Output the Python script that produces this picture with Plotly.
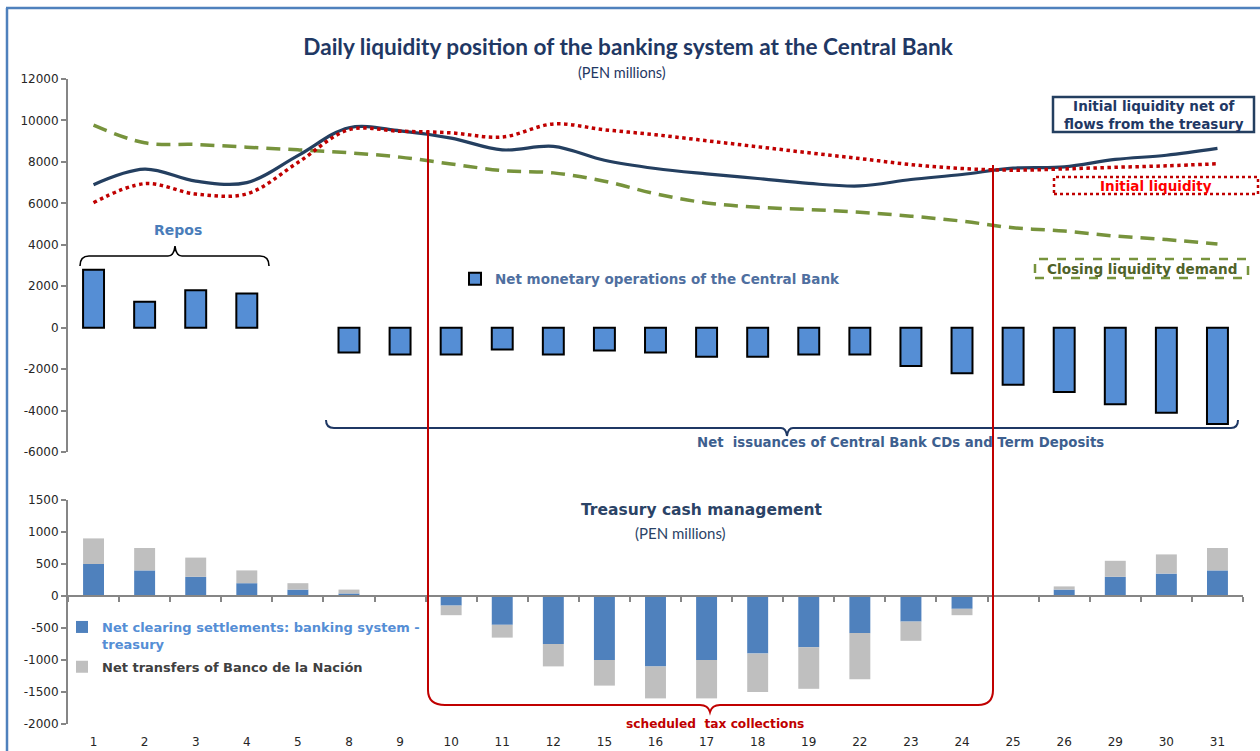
import plotly.graph_objects as go

# ---------------- data ----------------
days = ["1", "2", "3", "4", "5", "8", "9", "10", "11", "12", "15", "16",
        "17", "18", "19", "22", "23", "24", "25", "26", "29", "30", "31"]

net_monetary_ops = [2800, 1250, 1800, 1650, None, -1200, -1300, -1300, -1050, -1300, -1100, -1200,
                    -1400, -1400, -1300, -1300, -1850, -2200, -2750, -3100, -3700, -4100, -4650]

initial_liq_net_treasury = [6900, 7650, 7070, 7000, 8300, 9650, 9500, 9150, 8580, 8750, 8080, 7680,
                            7420, 7200, 6960, 6840, 7150, 7390, 7700, 7760, 8120, 8320, 8650]

initial_liquidity = [6030, 6950, 6450, 6460, 7970, 9550, 9480, 9400, 9200, 9830, 9550, 9310,
                     9020, 8730, 8440, 8160, 7870, 7680, 7600, 7660, 7740, 7810, 7910]

closing_liq_demand = [9770, 8920, 8840, 8710, 8580, 8440, 8230, 7900, 7580, 7470, 7070, 6460,
                      6020, 5810, 5700, 5570, 5380, 5140, 4820, 4660, 4420, 4250, 4040]

net_clearing = [500, 400, 300, 200, 100, 40, 0, -150, -450, -750, -1000, -1100,
                -1000, -900, -800, -580, -400, -200, 0, 100, 300, 350, 400]

net_bn_transfers = [400, 350, 300, 200, 100, 60, 0, -150, -200, -350, -400, -500,
                    -600, -600, -650, -720, -300, -100, 0, 50, 250, 300, 350]

top_ticks = [-6000, -4000, -2000, 0, 2000, 4000, 6000, 8000, 10000, 12000]
bottom_ticks = [-2000, -1500, -1000, -500, 0, 500, 1000, 1500]

# ---------------- geometry helpers ----------------
W, H = 1260, 751
L, R, T, B = 68, 17, 79, 27
PW, PH = W - L - R, H - T - B


def px(x):
    return (x - L) / PW


def py(y):
    return (H - B - y) / PH


def path(cmds):
    out = []
    for c, pts in cmds:
        coords = []
        for i in range(0, len(pts), 2):
            coords.append(f"{px(pts[i]):.5f},{py(pts[i+1]):.5f}")
        out.append(c + " " + " ".join(coords))
    return " ".join(out)


VERD = "DejaVu Sans"
AX = "#868686"
TXT = "#262626"

fig = go.Figure()

# top chart
fig.add_trace(go.Bar(
    x=days, y=net_monetary_ops, xaxis="x", yaxis="y",
    name="Net monetary operations of the Central Bank",
    marker=dict(color="#558ED5", line=dict(color="#000000", width=2)),
    legend="legend",
))
fig.add_trace(go.Scatter(
    x=days, y=closing_liq_demand, xaxis="x", yaxis="y", mode="lines",
    name="Closing liquidity demand", showlegend=False,
    line=dict(color="#77933C", width=3.5, dash="14px,8px", shape="spline", smoothing=1),
))
fig.add_trace(go.Scatter(
    x=days, y=initial_liq_net_treasury, xaxis="x", yaxis="y", mode="lines",
    name="Initial liquidity net of flows from the treasury", showlegend=False,
    line=dict(color="#243F60", width=3.2, shape="spline", smoothing=1),
))
fig.add_trace(go.Scatter(
    x=days, y=initial_liquidity, xaxis="x", yaxis="y", mode="lines",
    name="Initial liquidity", showlegend=False,
    line=dict(color="#C00000", width=3.5, dash="dot", shape="spline", smoothing=1),
))

# bottom chart
fig.add_trace(go.Bar(
    x=days, y=net_clearing, xaxis="x2", yaxis="y2",
    name="Net clearing settlements: banking system -<br>treasury",
    marker=dict(color="#4F81BD", line=dict(width=0)),
    legend="legend2", legendgroup="clearing",
))
fig.add_trace(go.Bar(
    x=days, y=net_bn_transfers, xaxis="x2", yaxis="y2",
    name='<span style="color:#404040">Net transfers of Banco de la Nación</span>',
    marker=dict(color="#BFBFBF", line=dict(width=0)),
    legend="legend2", legendgroup="bn",
))

shapes = []
# outer blue border (left & top)
shapes.append(dict(type="line", xref="paper", yref="paper", x0=px(7), x1=px(7), y0=py(8), y1=py(760),
                   line=dict(color="#4F81BD", width=2.5)))
shapes.append(dict(type="line", xref="paper", yref="paper", x0=px(6), x1=px(1270), y0=py(8), y1=py(8),
                   line=dict(color="#4F81BD", width=2.5)))

# Repos brace
shapes.append(dict(type="path", xref="paper", yref="paper", line=dict(color="#000000", width=1.6),
                   path=path([("M", [80, 266]), ("Q", [80, 256, 89, 256]), ("L", [168, 256]),
                              ("Q", [174, 256, 175, 246]), ("Q", [176, 256, 182, 256]),
                              ("L", [260, 256]), ("Q", [269, 256, 269, 266])])))
# Net issuances brace
shapes.append(dict(type="path", xref="paper", yref="paper", line=dict(color="#1F3864", width=2),
                   path=path([("M", [326, 420]), ("Q", [326, 428, 334, 428]), ("L", [781, 428]),
                              ("Q", [786, 428, 787, 436]), ("Q", [788, 428, 793, 428]),
                              ("L", [1231, 428]), ("Q", [1238, 428, 1238, 420])])))
# scheduled tax collections brace (red)
shapes.append(dict(type="path", xref="paper", yref="paper", line=dict(color="#C00000", width=2),
                   path=path([("M", [428, 130]), ("L", [428, 690]), ("Q", [428, 705, 445, 705]),
                              ("L", [700, 705]), ("Q", [708, 705, 710, 712]), ("Q", [712, 705, 720, 705]),
                              ("L", [978, 705]), ("Q", [993, 705, 993, 690]), ("L", [993, 165])])))
# label boxes
shapes.append(dict(type="rect", xref="paper", yref="paper", x0=px(1053), x1=px(1254), y0=py(132), y1=py(97),
                   line=dict(color="#243F60", width=2.5)))
shapes.append(dict(type="rect", xref="paper", yref="paper", x0=px(1054), x1=px(1258), y0=py(194), y1=py(177),
                   line=dict(color="#C00000", width=2.5, dash="dot")))
shapes.append(dict(type="rect", xref="paper", yref="paper", x0=px(1035), x1=px(1248), y0=py(278), y1=py(259),
                   line=dict(color="#77933C", width=2.5, dash="dash")))


def ann(text, x, y, size, color, family=VERD, bold=True, **kw):
    return dict(text=text, x=px(x), y=py(y), xref="paper", yref="paper", showarrow=False,
                xanchor="center", yanchor="middle",
                font=dict(family=family, size=size, color=color, weight=700 if bold else 400), **kw)


annotations = [
    ann("(PEN millions)", 622, 72, 14.5, "#1F3864", family="Lato", bold=False),
    ann("Repos", 178, 230, 14, "#4A7DBA"),
    ann("Net\u00a0 issuances of Central Bank CDs and Term Deposits", 900, 443, 13.3, "#3D5F8F"),
    ann("Treasury cash management", 702, 510, 15.5, "#2B4366"),
    ann("(PEN millions)", 680, 533, 15, "#2B4366", family="Lato", bold=False),
    ann("scheduled\u00a0 tax collections", 715, 724, 12.2, "#C00000"),
    ann("Initial liquidity net of<br>flows from the treasury", 1154, 115, 13.5, "#1F3864"),
    ann("Initial liquidity", 1156, 186, 13.5, "#FF0000"),
    ann("Closing liquidity demand", 1142, 269, 13.6, "#4F6228"),
]

fig.update_layout(
    width=W, height=H,
    margin=dict(l=L, r=R, t=T, b=B, autoexpand=False),
    paper_bgcolor="white", plot_bgcolor="white",
    barmode="relative", bargap=0.59,
    title=dict(text="Daily liquidity position of the banking system at the Central Bank",
               x=628 / W, xref="container", xanchor="center",
               y=1 - 47 / H, yref="container", yanchor="middle",
               font=dict(family="Lato", size=22.6, color="#1F3864", weight=700)),
    xaxis=dict(type="category", categoryorder="array", categoryarray=days,
               anchor="free", position=0, matches="x2", automargin=False,
               showline=False, showgrid=False, zeroline=False,
               ticks="outside", ticklen=7, tickcolor="rgba(0,0,0,0)",
               tickfont=dict(family=VERD, size=12, color=TXT)),
    xaxis2=dict(type="category", categoryorder="array", categoryarray=days,
                anchor="free", position=py(596), automargin=False,
                showline=True, linecolor=AX, linewidth=2,
                ticks="outside", tickson="boundaries", ticklen=5, tickwidth=2, tickcolor=AX,
                showticklabels=False, showgrid=False, zeroline=False),
    yaxis=dict(domain=[py(452), 1], range=[-6000, 12000], anchor="x", automargin=False,
               tickvals=top_ticks, ticktext=[str(v) for v in top_ticks],
               showline=True, linecolor=AX, linewidth=2,
               ticks="outside", ticklen=5, tickwidth=2, tickcolor=AX,
               showgrid=False, zeroline=False,
               tickfont=dict(family=VERD, size=12, color=TXT)),
    yaxis2=dict(domain=[0, py(500)], range=[-2000, 1500], anchor="x2", automargin=False,
                tickvals=bottom_ticks, ticktext=[str(v) for v in bottom_ticks],
                showline=True, linecolor=AX, linewidth=2,
                ticks="outside", ticklen=5, tickwidth=2, tickcolor=AX,
                showgrid=False, zeroline=False,
                tickfont=dict(family=VERD, size=12, color=TXT)),
    legend=dict(x=px(455), y=py(279), xref="paper", yref="paper", xanchor="left", yanchor="middle",
                bgcolor="rgba(0,0,0,0)", borderwidth=0,
                font=dict(family=VERD, size=13.5, color="#4F6FA0", weight=700)),
    legend2=dict(x=px(62), y=py(612), xref="paper", yref="paper", xanchor="left", yanchor="top",
                 bgcolor="rgba(0,0,0,0)", borderwidth=0, traceorder="grouped", tracegroupgap=3,
                 valign="top",
                 font=dict(family=VERD, size=13, color="#558ED5", weight=700)),
    shapes=shapes,
    annotations=annotations,
    hovermode=False,
)

fig.write_html("out.html", config={"displayModeBar": False},
               post_script="document.body.style.margin='0px';")
